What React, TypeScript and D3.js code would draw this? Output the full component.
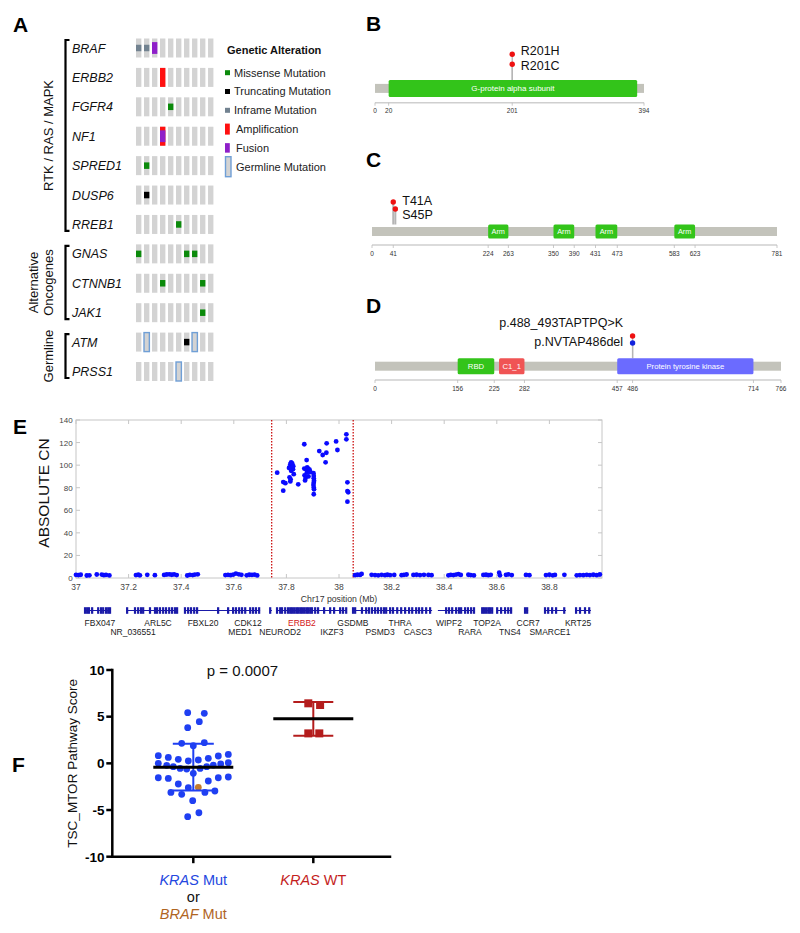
import React, { useEffect, useRef } from 'react';
import * as d3 from 'd3';

const FONT = '"Liberation Sans", Arial, Helvetica, sans-serif';

// ---------- A: oncoprint ----------
const genes = ['BRAF', 'ERBB2', 'FGFR4', 'NF1', 'SPRED1', 'DUSP6', 'RREB1', 'GNAS', 'CTNNB1', 'JAK1', 'ATM', 'PRSS1'];
const sampleIds = ['s1', 's2', 's3', 's4', 's5', 's6', 's7', 's8', 's9', 's10'];
const groupNames = [['RTK / RAS / MAPK'], ['Alternative', 'Oncogenes'], ['Germline']];
const groupFirst = ['BRAF', 'GNAS', 'ATM'];
const groupLast = ['RREB1', 'JAK1', 'PRSS1'];
// [gene, sample, alteration]
const alterations = [
  ['BRAF', 's1', 'inframe'], ['BRAF', 's2', 'inframe'], ['BRAF', 's3', 'fusion'],
  ['ERBB2', 's4', 'amp'],
  ['FGFR4', 's5', 'missense'],
  ['NF1', 's4', 'amp'], ['NF1', 's4', 'fusion'],
  ['SPRED1', 's2', 'missense'],
  ['DUSP6', 's2', 'truncating'],
  ['RREB1', 's6', 'missense'],
  ['GNAS', 's1', 'missense'], ['GNAS', 's7', 'missense'], ['GNAS', 's8', 'missense'],
  ['CTNNB1', 's4', 'missense'], ['CTNNB1', 's9', 'missense'],
  ['JAK1', 's9', 'missense'],
  ['ATM', 's2', 'germline'], ['ATM', 's7', 'truncating'], ['ATM', 's8', 'germline'],
  ['PRSS1', 's6', 'germline'],
];
const legendKeys = ['missense', 'truncating', 'inframe', 'amp', 'fusion', 'germline'];
const legendLabels = ['Missense Mutation', 'Truncating Mutation', 'Inframe Mutation', 'Amplification', 'Fusion', 'Germline Mutation'];
const altColor: any = {
  missense: '#0b8a0b', truncating: '#000000', inframe: '#728290',
  amp: '#ff1010', fusion: '#8e1fc9', germline: '#6f9fd6',
};

// ---------- B, C, D: protein lollipops ----------
const gnasLength = 394;
const gnasTicks = [0, 20, 201, 394];
const gnasDomains = [['G-protein alpha subunit', 20, 384, 'green']];
const gnasMuts = [['R201H', 201, 'missense'], ['R201C', 201, 'missense']];

const ctnnb1Length = 781;
const ctnnb1Ticks = [0, 41, 224, 263, 350, 390, 431, 473, 583, 623, 781];
const ctnnb1Domains = [['Arm', 224, 263, 'green'], ['Arm', 350, 390, 'green'], ['Arm', 431, 473, 'green'], ['Arm', 583, 623, 'green']];
const ctnnb1Muts = [['T41A', 41, 'missense'], ['S45P', 45, 'missense']];

const brafLength = 766;
const brafTicks = [0, 156, 225, 282, 457, 486, 714, 766];
const brafDomains = [['RBD', 156, 225, 'green'], ['C1_1', 234, 282, 'red'], ['Protein tyrosine kinase', 457, 714, 'blue']];
const brafMuts = [['p.488_493TAPTPQ>K', 486, 'delins'], ['p.NVTAP486del', 486, 'del']];

const domainColor: any = { green: '#33c41a', red: '#f05454', blue: '#6b6bff' };
const mutColor: any = { missense: '#ee1111', delins: '#ee1111', del: '#1122dd' };

// ---------- E: copy number ----------
const cnYTicks = [0, 20, 40, 60, 80, 100, 120, 140];
const cnXTicks = [37, 37.2, 37.4, 37.6, 37.8, 38, 38.2, 38.4, 38.6, 38.8];
const ampBounds = [37.744, 38.054];
// [Mb, absolute CN]
const cnBackground = [
  [37.000, 2.8], [37.009, 2.6], [37.018, 2.9], [37.041, 2.2], [37.051, 2.4], [37.079, 3.1], [37.098, 3.0], [37.106, 2.5], [37.114, 2.7], [37.127, 2.3],
  [37.228, 2.6], [37.237, 2.9], [37.243, 2.4], [37.271, 2.8], [37.300, 2.5], [37.335, 2.7], [37.345, 3.1], [37.355, 3.3], [37.364, 2.9], [37.373, 3.2], [37.383, 2.6],
  [37.423, 2.2], [37.433, 2.8], [37.444, 2.6], [37.452, 3.0], [37.463, 3.3],
  [37.568, 2.6], [37.578, 2.8], [37.588, 2.5], [37.598, 3.0], [37.608, 3.9], [37.619, 3.3], [37.629, 2.8], [37.649, 2.4], [37.659, 2.9], [37.669, 2.7], [37.679, 3.0], [37.689, 2.3],
  [38.061, 2.5], [38.070, 2.9], [38.080, 2.7], [38.086, 3.6],
  [38.124, 2.8], [38.137, 2.6], [38.149, 2.4], [38.162, 2.8], [38.175, 2.5], [38.184, 2.9], [38.194, 2.6], [38.210, 2.7],
  [38.238, 2.5], [38.247, 2.8], [38.257, 3.1], [38.283, 2.7], [38.295, 2.9], [38.308, 2.6], [38.323, 2.8], [38.340, 2.7], [38.352, 2.5],
  [38.416, 2.4], [38.425, 2.8], [38.435, 2.6], [38.445, 3.0], [38.454, 3.5], [38.463, 2.7],
  [38.492, 2.9], [38.501, 2.6], [38.513, 2.3],
  [38.549, 2.7], [38.559, 2.9], [38.568, 2.5], [38.577, 2.8],
  [38.609, 4.7], [38.612, 2.4], [38.635, 2.8], [38.644, 3.2], [38.657, 2.6],
  [38.711, 2.7], [38.724, 2.5],
  [38.787, 2.6], [38.800, 2.9], [38.813, 2.4], [38.821, 2.7], [38.857, 2.8],
  [38.904, 2.4], [38.916, 2.6], [38.929, 2.5], [38.942, 2.8], [38.954, 2.6], [38.967, 2.9], [38.980, 2.5], [38.992, 3.1],
];
const cnAmplified = [
  [37.765, 93.3], [37.788, 85], [37.796, 84], [37.788, 77.4],
  [37.818, 102.5], [37.815, 100.8], [37.822, 101.5], [37.812, 98], [37.822, 98.5], [37.825, 96.3], [37.818, 95], [37.828, 92],
  [37.812, 89.2], [37.816, 87.4], [37.815, 85.6], [37.81, 97.5], [37.826, 99],
  [37.845, 83], [37.868, 118.5], [37.877, 104.5],
  [37.868, 97], [37.873, 96.5], [37.879, 98], [37.883, 97], [37.886, 95.5], [37.878, 93.5], [37.869, 91], [37.873, 88.5],
  [37.871, 86.5], [37.888, 96], [37.891, 94], [37.884, 90],
  [37.903, 92.8], [37.904, 90.4], [37.904, 88.3], [37.905, 86.2], [37.904, 84.5], [37.903, 82.4], [37.904, 80.3], [37.905, 78.6], [37.904, 74.2],
  [37.925, 112.5], [37.938, 109], [37.953, 119.3], [37.952, 111], [37.949, 102.5], [37.989, 121], [37.994, 113.4],
  [38.028, 127.3], [38.028, 122.9], [38.032, 84.8], [38.032, 77], [38.035, 76], [38.032, 67.6],
];
// gene models under the plot (Mb)
const geneSpans = [
  [37.034, 37.129], [37.194, 37.384], [37.414, 37.700], [37.738, 37.745], [37.764, 38.030], [38.053, 38.118], [38.125, 38.354],
  [38.376, 38.517], [38.544, 38.582], [38.601, 38.658], [38.707, 38.719], [38.783, 38.863], [38.901, 38.958],
];
const exons = [
  37.034, 37.042, 37.049, 37.061, 37.084, 37.095, 37.103, 37.114, 37.122, 37.129,
  37.194, 37.224, 37.236, 37.247, 37.255, 37.281, 37.300, 37.308, 37.319, 37.331, 37.342, 37.354, 37.365, 37.376, 37.384,
  37.414, 37.426, 37.437, 37.449, 37.460, 37.540, 37.578, 37.597, 37.608, 37.620, 37.631, 37.643, 37.662, 37.673, 37.684, 37.696,
  37.738, 37.764, 37.776, 37.783, 37.795, 37.806, 37.814, 37.821, 37.829, 37.837, 37.844, 37.852, 37.859, 37.867, 37.875, 37.882,
  37.890, 37.897, 37.909, 37.920, 37.943, 37.966, 37.981, 38.004, 38.015, 38.027,
  38.053, 38.061, 38.087, 38.103, 38.114, 38.125, 38.137, 38.148, 38.160, 38.171, 38.179, 38.194, 38.205, 38.221, 38.236,
  38.251, 38.266, 38.278, 38.293, 38.304, 38.316, 38.331, 38.346,
  38.407, 38.418, 38.430, 38.445, 38.456, 38.464, 38.479, 38.490, 38.502, 38.513,
  38.544, 38.551, 38.559, 38.567, 38.574, 38.582, 38.601, 38.616, 38.631, 38.643, 38.654, 38.707, 38.715,
  38.783, 38.795, 38.810, 38.825, 38.856, 38.901, 38.916, 38.935, 38.951,
];
const geneNames = ['FBX047', 'NR_036551', 'ARL5C', 'FBXL20', 'MED1', 'CDK12', 'NEUROD2', 'ERBB2', 'IKZF3', 'GSDMB',
  'PSMD3', 'THRA', 'CASC3', 'WIPF2', 'RARA', 'TOP2A', 'TNS4', 'CCR7', 'SMARCE1', 'KRT25'];
const geneNamePos = [37.091, 37.217, 37.312, 37.483, 37.624, 37.654, 37.776, 37.859, 37.973, 38.053,
  38.156, 38.232, 38.300, 38.418, 38.498, 38.563, 38.650, 38.719, 38.802, 38.909];
const geneNameRow = [0, 1, 0, 0, 1, 0, 1, 0, 1, 0, 1, 0, 1, 0, 1, 0, 1, 0, 1, 0];

// ---------- F: TSC_MTOR pathway score ----------
const scoreTicks = [-10, -5, 0, 5, 10];
const mutScores = [5.43, 5.36, 4.46, 3.82, 2.14, 2.21, 1.89, 0.82, 0.64, 0.43, 0.25, 0.36, 0.54, 0.79, 0.96,
  0.0, -0.21, -0.36, -0.54, -0.61, -1.07, -0.54, -0.36, -0.18, -0.07, 0.07,
  -1.54, -1.61, -2.21, -2.61, -2.57, -1.89, -1.54, -1.46, -3.11, -3.32, -3.11, -2.96, -4.0, -5.71, -5.29];
const mutSpread = [-0.14, 0.275, 0.15, -0.14, -0.29, 0.275, 0, -0.875, -0.625, -0.375, -0.125, 0.125, 0.375, 0.625, 0.875,
  -0.875, -0.665, -0.5, -0.33, -0.165, 0, 0.17, 0.335, 0.5, 0.685, 0.875,
  -0.875, -0.625, -0.375, -0.125, 0.125, 0.375, 0.625, 0.875, -0.56, -0.29, 0.29, 0.54, -0.015, -0.14, 0.14];
const mutIsBraf = mutScores.map((_, i) => i === 30);
const wtScores = [6.43, 6.25, 3.21, 3.21];
const wtSpread = [-0.125, 0.17, -0.125, 0.15];

function txt(g: any, x: number, y: number, s: string, size: number, opts: any = {}) {
  return g.append('text')
    .attr('x', x).attr('y', y)
    .attr('font-family', FONT)
    .attr('font-size', size)
    .attr('font-weight', opts.weight || 'normal')
    .attr('font-style', opts.style || 'normal')
    .attr('text-anchor', opts.anchor || 'start')
    .attr('fill', opts.fill || '#111')
    .text(s);
}

function drawOncoprint(svg: any) {
  const g = svg.append('g');
  const x = d3.scaleBand().domain(sampleIds).range([136, 213.4]).paddingInner(0.33);
  const y = d3.scalePoint().domain(genes).range([48, 371.5]);
  const cellH = 19;
  const bw = x.bandwidth();

  g.selectAll('rect.cell')
    .data(d3.cross(genes, sampleIds))
    .join('rect')
    .attr('x', (d: any) => x(d[1]))
    .attr('y', (d: any) => (y(d[0]) as number) - cellH / 2)
    .attr('width', bw)
    .attr('height', cellH)
    .attr('fill', '#d3d3d3');

  const order = ['amp', 'fusion', 'missense', 'truncating', 'inframe', 'germline'];
  const sorted = alterations.slice().sort((a, b) => order.indexOf(a[2]) - order.indexOf(b[2]));
  sorted.forEach(([gene, s, t]) => {
    const cx = x(s) as number;
    const cy = y(gene) as number;
    if (t === 'germline') {
      g.append('rect').attr('x', cx).attr('y', cy - cellH / 2).attr('width', bw).attr('height', cellH)
        .attr('fill', 'none').attr('stroke', altColor[t]).attr('stroke-width', 1.4);
    } else {
      const h = t === 'amp' ? cellH : t === 'fusion' ? cellH * 0.62 : 6.5;
      g.append('rect').attr('x', cx).attr('y', cy - h / 2).attr('width', bw).attr('height', h).attr('fill', altColor[t]);
    }
  });

  genes.forEach(gene => {
    txt(g, 72, (y(gene) as number) + 4.5, gene, 12.5, { style: 'italic' });
  });

  groupNames.forEach((lines, i) => {
    const top = (y(groupFirst[i]) as number) - 8;
    const bot = (y(groupLast[i]) as number) + 6.5;
    g.append('path')
      .attr('d', `M69.5,${top}H65.5V${bot}H69.5`)
      .attr('fill', 'none').attr('stroke', '#000').attr('stroke-width', 2.2);
    const mid = (top + bot) / 2;
    lines.forEach((line, j) => {
      const lx = 48 - (lines.length - 1 - j) * 15;
      g.append('text')
        .attr('transform', `translate(${lx},${mid}) rotate(-90)`)
        .attr('font-family', FONT).attr('font-size', 13).attr('text-anchor', 'middle')
        .attr('dominant-baseline', 'central').attr('fill', '#111')
        .text(line);
    });
  });

  // legend
  txt(g, 227, 53.5, 'Genetic Alteration', 11, { weight: 'bold' });
  const ly = d3.scalePoint().domain(legendKeys).range([72.7, 166.7]);
  legendKeys.forEach((k, i) => {
    const cy = ly(k) as number;
    if (k === 'germline') {
      g.append('rect').attr('x', 225.5).attr('y', cy - 10).attr('width', 5.5).attr('height', 20)
        .attr('fill', '#d3d3d3').attr('stroke', altColor[k]).attr('stroke-width', 1.4);
    } else {
      const h = k === 'amp' ? 11 : k === 'fusion' ? 9.5 : 5;
      const w = k === 'amp' || k === 'fusion' ? 4.8 : 5;
      g.append('rect').attr('x', 225).attr('y', cy - h / 2).attr('width', w).attr('height', h).attr('fill', altColor[k]);
    }
    const tx = k === 'amp' || k === 'fusion' || k === 'germline' ? 236 : 234;
    txt(g, tx, cy + 3.8, legendLabels[i], 11, { fill: '#222' });
  });
}

function drawProtein(svg: any, cfg: any) {
  const g = svg.append('g');
  const x = d3.scaleLinear().domain([0, cfg.length]).range([cfg.x0, cfg.x1]);
  const yc = cfg.yc;
  // stems
  cfg.muts.forEach((m: any, i: number) => {
    g.append('line').attr('x1', x(m[1])).attr('x2', x(m[1]))
      .attr('y1', yc - cfg.domainH / 2).attr('y2', cfg.dotY[i])
      .attr('stroke', '#b5b5b5').attr('stroke-width', cfg.stemW || 1.3);
  });
  g.append('rect').attr('x', x(0)).attr('y', yc - 4.5).attr('width', x(cfg.length) - x(0)).attr('height', 9)
    .attr('fill', '#c3c3bb');
  cfg.domains.forEach((d: any) => {
    g.append('rect').attr('x', x(d[1])).attr('y', yc - cfg.domainH / 2)
      .attr('width', x(d[2]) - x(d[1])).attr('height', cfg.domainH).attr('rx', 1.5)
      .attr('fill', domainColor[d[3]]);
    txt(g, (x(d[1]) + x(d[2])) / 2, yc + 2.8, d[0], cfg.domainFont, { anchor: 'middle', fill: '#fff' });
  });
  // dots, drawn from lowest to highest
  cfg.muts.slice().reverse().forEach((m: any, k: number) => {
    const i = cfg.muts.length - 1 - k;
    g.append('circle').attr('cx', x(m[1])).attr('cy', cfg.dotY[i]).attr('r', 2.7).attr('fill', mutColor[m[2]]);
  });
  cfg.muts.forEach((m: any, i: number) => {
    txt(g, cfg.labelX(x), cfg.labelY[i] + 4.5, m[0], 12.5, { anchor: cfg.labelAnchor, fill: '#111' });
  });
  // axis
  g.append('line').attr('x1', x(0)).attr('x2', x(cfg.length)).attr('y1', cfg.axisY).attr('y2', cfg.axisY)
    .attr('stroke', '#cfcfcf').attr('stroke-width', 1.5);
  cfg.ticks.forEach((t: number) => {
    g.append('line').attr('x1', x(t)).attr('x2', x(t)).attr('y1', cfg.axisY).attr('y2', cfg.axisY + 3)
      .attr('stroke', '#bbb').attr('stroke-width', 0.8);
    txt(g, x(t), cfg.axisY + 10.5, String(t), 6.5, { anchor: 'middle', fill: '#333' });
  });
}

function drawCopyNumber(svg: any) {
  const g = svg.append('g');
  const x = d3.scaleLinear().domain([37, 39]).range([76, 602]);
  const y = d3.scaleLinear().domain([0, 140]).range([578, 420]);
  g.append('rect').attr('x', x(37)).attr('y', y(140)).attr('width', x(39) - x(37)).attr('height', y(0) - y(140))
    .attr('fill', 'none').attr('stroke', '#c6c6c6').attr('stroke-width', 1);
  cnYTicks.forEach(v => {
    g.append('line').attr('x1', x(37)).attr('x2', x(37) + 4).attr('y1', y(v)).attr('y2', y(v)).attr('stroke', '#c6c6c6');
    g.append('line').attr('x1', x(39)).attr('x2', x(39) - 4).attr('y1', y(v)).attr('y2', y(v)).attr('stroke', '#c6c6c6');
    txt(g, 72.7, y(v) + 3, String(v), 8, { anchor: 'end', fill: '#444' });
  });
  cnXTicks.forEach(v => {
    g.append('line').attr('x1', x(v)).attr('x2', x(v)).attr('y1', y(0)).attr('y2', y(0) - 4).attr('stroke', '#c6c6c6');
    g.append('line').attr('x1', x(v)).attr('x2', x(v)).attr('y1', y(140)).attr('y2', y(140) + 4).attr('stroke', '#c6c6c6');
    txt(g, x(v), 589.5, String(v), 8.5, { anchor: 'middle', fill: '#444' });
  });
  txt(g, x(38.0), 601.5, 'Chr17 position (Mb)', 8.7, { anchor: 'middle', fill: '#333' });
  g.append('text')
    .attr('transform', `translate(43,${(y(0) + y(140)) / 2 - 6}) rotate(-90)`)
    .attr('font-family', FONT).attr('font-size', 15.5).attr('text-anchor', 'middle')
    .attr('dominant-baseline', 'central').attr('fill', '#111')
    .text('ABSOLUTE CN');

  ampBounds.forEach(b => {
    g.append('line').attr('x1', x(b)).attr('x2', x(b)).attr('y1', y(140)).attr('y2', y(0))
      .attr('stroke', '#cc1111').attr('stroke-width', 1.3).attr('stroke-dasharray', '1.6,1.4');
  });

  g.selectAll('circle.cn')
    .data(cnBackground.concat(cnAmplified))
    .join('circle')
    .attr('cx', (d: any) => x(d[0]))
    .attr('cy', (d: any) => y(d[1]))
    .attr('r', 2.4)
    .attr('fill', '#0a0aff');

  // gene track
  const trackY = 610.5;
  geneSpans.forEach(s => {
    g.append('line').attr('x1', x(s[0])).attr('x2', x(s[1])).attr('y1', trackY).attr('y2', trackY)
      .attr('stroke', '#1a1aa8').attr('stroke-width', 1);
  });
  exons.forEach(e => {
    g.append('rect').attr('x', x(e) - 1).attr('y', trackY - 3.3).attr('width', 2.2).attr('height', 6.6)
      .attr('fill', '#1a1aa8');
  });
  geneNames.forEach((n, i) => {
    txt(g, x(geneNamePos[i]), geneNameRow[i] === 0 ? 625.5 : 634.5, n, 8.5,
      { anchor: 'middle', fill: n === 'ERBB2' ? '#d42020' : '#222' });
  });
}

function drawScores(svg: any) {
  const g = svg.append('g');
  const y = d3.scaleLinear().domain([-10, 10]).range([856.7, 670]);
  const x = d3.scalePoint().domain(['mut', 'wt']).range([193.3, 313.3]);
  const spread = d3.scaleLinear().domain([-1, 1]).range([-40, 40]);
  const axisX = 112.3;

  // axes
  g.append('line').attr('x1', axisX).attr('x2', axisX).attr('y1', y(10)).attr('y2', y(-10))
    .attr('stroke', '#000').attr('stroke-width', 2.5).attr('stroke-linecap', 'square');
  g.append('line').attr('x1', axisX).attr('x2', 390).attr('y1', y(-10)).attr('y2', y(-10))
    .attr('stroke', '#000').attr('stroke-width', 2.5).attr('stroke-linecap', 'square');
  scoreTicks.forEach(v => {
    g.append('line').attr('x1', axisX - 6).attr('x2', axisX).attr('y1', y(v)).attr('y2', y(v))
      .attr('stroke', '#000').attr('stroke-width', 2.5);
    txt(g, 104.5, y(v) + 4.8, String(v), 13.5, { anchor: 'end', weight: 'bold', fill: '#000' });
  });
  ['mut', 'wt'].forEach(k => {
    g.append('line').attr('x1', x(k)).attr('x2', x(k)).attr('y1', y(-10)).attr('y2', y(-10) + 6.5)
      .attr('stroke', '#000').attr('stroke-width', 2.5);
  });
  g.append('text')
    .attr('transform', `translate(72.5,${y(0)}) rotate(-90)`)
    .attr('font-family', FONT).attr('font-size', 13.5).attr('text-anchor', 'middle')
    .attr('dominant-baseline', 'central').attr('fill', '#111')
    .text('TSC_MTOR Pathway Score');
  txt(g, 242.5, 675.5, 'p = 0.0007', 15, { anchor: 'middle', fill: '#111' });

  // KRAS mut / BRAF mut points
  const mx = x('mut') as number;
  mutScores.forEach((v, i) => {
    g.append('circle').attr('cx', mx + spread(mutSpread[i])).attr('cy', y(v)).attr('r', 3.4)
      .attr('fill', mutIsBraf[i] ? '#c47a2c' : '#1f3ff2');
  });
  const mMean = d3.mean(mutScores) as number;
  const mSd = d3.deviation(mutScores) as number;
  const blue = '#1f3ff2';
  g.append('line').attr('x1', mx).attr('x2', mx).attr('y1', y(mMean + mSd)).attr('y2', y(mMean - mSd))
    .attr('stroke', blue).attr('stroke-width', 2);
  [mMean + mSd, mMean - mSd].forEach(v => {
    g.append('line').attr('x1', mx - 20.5).attr('x2', mx + 20.5).attr('y1', y(v)).attr('y2', y(v))
      .attr('stroke', blue).attr('stroke-width', 2);
  });
  g.append('line').attr('x1', mx - 40).attr('x2', mx + 40).attr('y1', y(mMean)).attr('y2', y(mMean))
    .attr('stroke', '#000').attr('stroke-width', 3);

  // KRAS WT
  const wx = x('wt') as number;
  const red = '#b41c1c';
  const wMean = d3.mean(wtScores) as number;
  const wSd = d3.deviation(wtScores) as number;
  wtScores.forEach((v, i) => {
    g.append('rect').attr('x', wx + spread(wtSpread[i]) - 4).attr('y', y(v) - 4).attr('width', 8).attr('height', 8)
      .attr('fill', red);
  });
  g.append('line').attr('x1', wx).attr('x2', wx).attr('y1', y(wMean + wSd)).attr('y2', y(wMean - wSd))
    .attr('stroke', red).attr('stroke-width', 2);
  [wMean + wSd, wMean - wSd].forEach(v => {
    g.append('line').attr('x1', wx - 20).attr('x2', wx + 20).attr('y1', y(v)).attr('y2', y(v))
      .attr('stroke', red).attr('stroke-width', 2);
  });
  g.append('line').attr('x1', wx - 40).attr('x2', wx + 40).attr('y1', y(wMean)).attr('y2', y(wMean))
    .attr('stroke', '#000').attr('stroke-width', 3);

  // category labels
  const lab = (cx: number, cy: number, gene: string, rest: string, fill: string) => {
    const t = g.append('text').attr('x', cx).attr('y', cy).attr('font-family', FONT).attr('font-size', 14.5)
      .attr('text-anchor', 'middle').attr('fill', fill);
    t.append('tspan').attr('font-style', 'italic').text(gene);
    t.append('tspan').text(rest);
  };
  lab(mx, 885, 'KRAS', ' Mut', '#2447e0');
  txt(g, mx, 902, 'or', 14.5, { anchor: 'middle', fill: '#111' });
  lab(mx, 919, 'BRAF', ' Mut', '#b0651f');
  lab(wx, 885, 'KRAS', ' WT', '#c41e1e');
}

const App = () => {
  const ref = useRef<SVGSVGElement>(null);

  useEffect(() => {
    const svg = d3.select(ref.current);
    svg.selectAll('*').remove();

    // panel letters
    const letters: [string, number, number][] = [['A', 13, 32], ['B', 366, 31], ['C', 366, 167], ['D', 366, 313], ['E', 13, 434], ['F', 12, 772]];
    letters.forEach(([l, lx, ly]) => txt(svg, lx, ly, l, 21, { weight: 'bold', fill: '#000' }));

    drawOncoprint(svg);
    drawProtein(svg, {
      length: gnasLength, ticks: gnasTicks, domains: gnasDomains, muts: gnasMuts,
      x0: 375, x1: 644, yc: 88.4, domainH: 17, axisY: 102.7, domainFont: 8,
      dotY: [54.3, 64.3], labelY: [50.5, 65], labelAnchor: 'start', labelX: (x: any) => x(201) + 8.5,
    });
    drawProtein(svg, {
      length: ctnnb1Length, ticks: ctnnb1Ticks, domains: ctnnb1Domains, muts: ctnnb1Muts,
      x0: 372, x1: 777, yc: 231.5, domainH: 14, axisY: 245, domainFont: 7.3, stemW: 2,
      dotY: [202, 209], labelY: [200, 214], labelAnchor: 'start', labelX: (x: any) => x(41) + 9,
    });
    drawProtein(svg, {
      length: brafLength, ticks: brafTicks, domains: brafDomains, muts: brafMuts,
      x0: 375, x1: 781, yc: 366.2, domainH: 16, axisY: 380, domainFont: 7.7,
      dotY: [336, 343], labelY: [322.5, 341.5], labelAnchor: 'end', labelX: (x: any) => x(486) - 9.5,
    });
    drawCopyNumber(svg);
    drawScores(svg);
  }, []);

  return (
    <svg
      ref={ref}
      width={800}
      height={933}
      style={{ position: 'absolute', left: 0, top: 0, background: '#fff' }}
    />
  );
};

export default App;
